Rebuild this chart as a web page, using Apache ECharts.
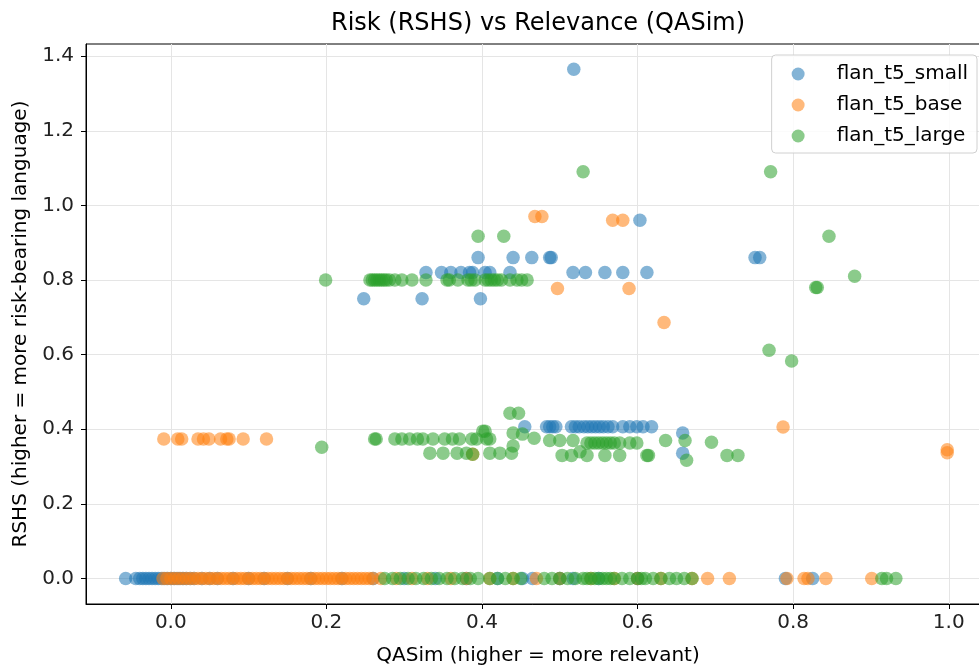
<!DOCTYPE html>
<html>
<head>
<meta charset="utf-8">
<script src="https://cdn.jsdelivr.net/npm/echarts@6/dist/echarts.min.js"></script>
<style>html,body{margin:0;padding:0;background:#fff}#chart{width:979px;height:667px}</style>
</head>
<body>
<div id="chart"></div>
<script>
const seriesNames = ['flan_t5_small', 'flan_t5_base', 'flan_t5_large'];
const xTicks = [0.0, 0.2, 0.4, 0.6, 0.8, 1.0];
const yTicks = [0.0, 0.2, 0.4, 0.6, 0.8, 1.0, 1.2, 1.4];

const smallPoints = [
  [-0.058,0],[-0.045,0],[-0.040,0],[-0.036,0],[-0.032,0],[-0.028,0],[-0.024,0],[-0.020,0],[-0.016,0],[-0.012,0],
  [-0.008,0],[-0.004,0],[0.0,0],[0.004,0],[0.008,0],[0.012,0],[0.016,0],[0.02,0],[0.025,0],[0.03,0],[0.04,0],
  [0.05,0],[0.06,0],[0.08,0],[0.1,0],[0.12,0],[0.15,0],[0.18,0],[0.22,0],[0.26,0],[0.3,0],[0.34,0],[0.38,0],
  [0.42,0],[0.452,0],[0.465,0],[0.5,0],[0.517,0],[0.55,0],[0.6,0],[0.79,0],[0.825,0],
  [0.328,0.82],[0.348,0.82],[0.360,0.82],[0.373,0.82],[0.384,0.82],[0.388,0.82],[0.404,0.82],[0.410,0.82],
  [0.436,0.82],[0.517,0.82],[0.533,0.82],[0.558,0.82],[0.581,0.82],[0.612,0.82],
  [0.248,0.75],[0.323,0.75],[0.398,0.75],
  [0.395,0.86],[0.440,0.86],[0.464,0.86],[0.487,0.86],[0.489,0.86],[0.751,0.86],[0.757,0.86],
  [0.603,0.96],[0.518,1.365],
  [0.455,0.407],[0.483,0.407],[0.487,0.407],[0.491,0.407],[0.495,0.407],[0.515,0.407],[0.520,0.407],
  [0.525,0.407],[0.531,0.407],[0.536,0.407],[0.541,0.407],[0.546,0.407],[0.551,0.407],[0.556,0.407],
  [0.562,0.407],[0.568,0.407],[0.581,0.407],[0.590,0.407],[0.599,0.407],[0.607,0.407],[0.618,0.407],
  [0.658,0.39],[0.658,0.336]
];

const basePoints = [
  [-0.010,0],[-0.005,0],[0.0,0],[0.005,0],[0.01,0],[0.015,0],[0.02,0],[0.025,0],[0.03,0],[0.035,0],[0.04,0],
  [0.045,0],[0.05,0],[0.055,0],[0.06,0],[0.065,0],[0.07,0],[0.075,0],[0.08,0],[0.085,0],[0.09,0],[0.095,0],
  [0.1,0],[0.105,0],[0.11,0],[0.115,0],[0.12,0],[0.125,0],[0.13,0],[0.135,0],[0.14,0],[0.145,0],[0.15,0],
  [0.155,0],[0.16,0],[0.165,0],[0.17,0],[0.175,0],[0.18,0],[0.185,0],[0.19,0],[0.195,0],[0.2,0],[0.205,0],
  [0.21,0],[0.215,0],[0.22,0],[0.225,0],[0.23,0],[0.235,0],[0.24,0],[0.245,0],[0.25,0],[0.255,0],[0.26,0],
  [0.27,0],[0.29,0],[0.31,0],[0.33,0],[0.36,0],[0.38,0],[0.41,0],[0.44,0],[0.47,0],[0.5,0],[0.54,0],
  [0.57,0],[0.6,0],[0.63,0],[0.67,0],[0.69,0],[0.718,0],[0.792,0],[0.814,0],[0.819,0],[0.842,0],[0.901,0],
  [-0.009,0.374],[0.009,0.374],[0.014,0.374],[0.035,0.374],[0.042,0.374],[0.049,0.374],[0.064,0.374],
  [0.072,0.374],[0.075,0.374],[0.093,0.374],[0.123,0.374],
  [0.468,0.97],[0.477,0.97],[0.568,0.96],[0.581,0.96],[0.497,0.777],[0.589,0.777],[0.634,0.686],
  [0.787,0.406],[0.998,0.345],[0.998,0.337],[0.388,0.333]
];

const largePoints = [
  [0.275,0],[0.285,0],[0.295,0],[0.305,0],[0.315,0],[0.325,0],[0.335,0],[0.345,0],[0.355,0],[0.365,0],
  [0.375,0],[0.385,0],[0.395,0],[0.41,0],[0.42,0],[0.43,0],[0.44,0],[0.45,0],[0.48,0],[0.49,0],[0.5,0],
  [0.51,0],[0.52,0],[0.53,0],[0.535,0],[0.54,0],[0.545,0],[0.55,0],[0.555,0],[0.56,0],[0.565,0],[0.57,0],
  [0.58,0],[0.59,0],[0.6,0],[0.605,0],[0.61,0],[0.62,0],[0.63,0],[0.641,0],[0.65,0],[0.66,0],[0.67,0],
  [0.914,0],[0.92,0],[0.932,0],
  [0.199,0.80],[0.256,0.80],[0.259,0.80],[0.262,0.80],[0.265,0.80],[0.268,0.80],[0.271,0.80],[0.274,0.80],
  [0.277,0.80],[0.281,0.80],[0.288,0.80],[0.297,0.80],[0.310,0.80],[0.328,0.80],[0.355,0.80],[0.358,0.80],
  [0.369,0.80],[0.382,0.80],[0.386,0.80],[0.391,0.80],[0.404,0.80],[0.408,0.80],[0.412,0.80],[0.416,0.80],
  [0.420,0.80],[0.425,0.80],[0.436,0.80],[0.445,0.80],[0.451,0.80],[0.458,0.80],
  [0.530,1.09],[0.771,1.09],[0.395,0.917],[0.428,0.917],[0.846,0.917],[0.879,0.81],[0.829,0.78],[0.831,0.78],
  [0.769,0.612],[0.798,0.583],[0.436,0.443],[0.447,0.443],[0.401,0.395],[0.404,0.395],
  [0.262,0.374],[0.264,0.374],[0.288,0.374],[0.297,0.374],[0.307,0.374],[0.317,0.374],[0.324,0.374],
  [0.337,0.374],[0.352,0.374],[0.362,0.374],[0.371,0.374],[0.387,0.374],[0.393,0.374],[0.406,0.374],
  [0.410,0.374],[0.440,0.39],[0.452,0.387],[0.467,0.376],[0.487,0.37],[0.500,0.37],[0.517,0.37],
  [0.636,0.37],[0.661,0.37],[0.695,0.365],
  [0.535,0.363],[0.540,0.363],[0.545,0.363],[0.550,0.363],[0.555,0.363],[0.560,0.363],[0.565,0.363],
  [0.570,0.363],[0.577,0.363],[0.590,0.363],[0.599,0.363],
  [0.333,0.336],[0.350,0.336],[0.368,0.336],[0.380,0.336],[0.388,0.333],[0.410,0.336],[0.423,0.336],
  [0.438,0.336],[0.440,0.355],[0.503,0.33],[0.515,0.33],[0.535,0.33],[0.558,0.33],[0.577,0.33],
  [0.612,0.33],[0.614,0.33],[0.715,0.33],[0.729,0.33],[0.526,0.34],[0.194,0.352],[0.663,0.317]
];

const colors = ['#1f77b4', '#ff7f0e', '#2ca02c'];
const FONT = 'DejaVu Sans';

const chart = echarts.init(document.getElementById('chart'), null, {renderer: 'canvas'});
const mk = (name, data, c) => ({
  name, type: 'scatter', data, symbol: 'circle', symbolSize: 13.5,
  itemStyle: {color: c, opacity: 0.55}, emphasis: {disabled: true}
});
chart.setOption({
  animation: false,
  backgroundColor: '#fff',
  title: {
    text: 'Risk (RSHS) vs Relevance (QASim)', left: 533, top: 7, textAlign: 'center',
    textStyle: {fontFamily: FONT, fontSize: 24, fontWeight: 'normal', color: '#000'}
  },
  legend: {
    data: seriesNames, orient: 'vertical', right: 2, top: 55,
    padding: [9, 9, 7, 20], itemGap: 11, itemWidth: 13, itemHeight: 13, icon: 'circle',
    backgroundColor: 'rgba(255,255,255,0.85)', borderColor: '#d0d0d0', borderWidth: 1, borderRadius: 4,
    formatter: name => '{g| }' + name,
    textStyle: {fontFamily: FONT, fontSize: 20, color: '#000', lineHeight: 20,
      rich: {g: {width: 27, fontSize: 20, lineHeight: 20}}},
    itemStyle: {opacity: 0.55}
  },
  grid: {left: 86, top: 44, right: -11, bottom: 63, outerBoundsMode: 'none', show: true,
    borderColor: '#000', borderWidth: 1, containLabel: false},
  xAxis: {
    type: 'value', min: -0.109, max: 1.053,
    name: 'QASim (higher = more relevant)', nameLocation: 'middle', nameGap: 42,
    nameTextStyle: {fontFamily: FONT, fontSize: 20, color: '#000'},
    axisLine: {show: true, onZero: false, lineStyle: {color: '#000'}},
    axisTick: {show: true, length: 5, customValues: xTicks, lineStyle: {color: '#000'}},
    axisLabel: {customValues: xTicks, formatter: v => v.toFixed(1), margin: 9,
      fontFamily: FONT, fontSize: 20, color: '#222'},
    splitLine: {show: true, lineStyle: {color: '#e5e5e5', width: 1}}
  },
  yAxis: {
    type: 'value', min: -0.0683, max: 1.4325,
    name: 'RSHS (higher = more risk-bearing language)', nameLocation: 'middle', nameGap: 55,
    nameTextStyle: {fontFamily: FONT, fontSize: 20, color: '#000'},
    axisLine: {show: true, onZero: false, lineStyle: {color: '#000'}},
    axisTick: {show: true, length: 5, customValues: yTicks, lineStyle: {color: '#000'}},
    axisLabel: {customValues: yTicks, formatter: v => v.toFixed(1), margin: 12,
      fontFamily: FONT, fontSize: 20, color: '#222'},
    splitLine: {show: true, lineStyle: {color: '#e5e5e5', width: 1}}
  },
  series: [
    mk(seriesNames[0], smallPoints, colors[0]),
    mk(seriesNames[1], basePoints, colors[1]),
    mk(seriesNames[2], largePoints, colors[2])
  ]
});
</script>
</body>
</html>
